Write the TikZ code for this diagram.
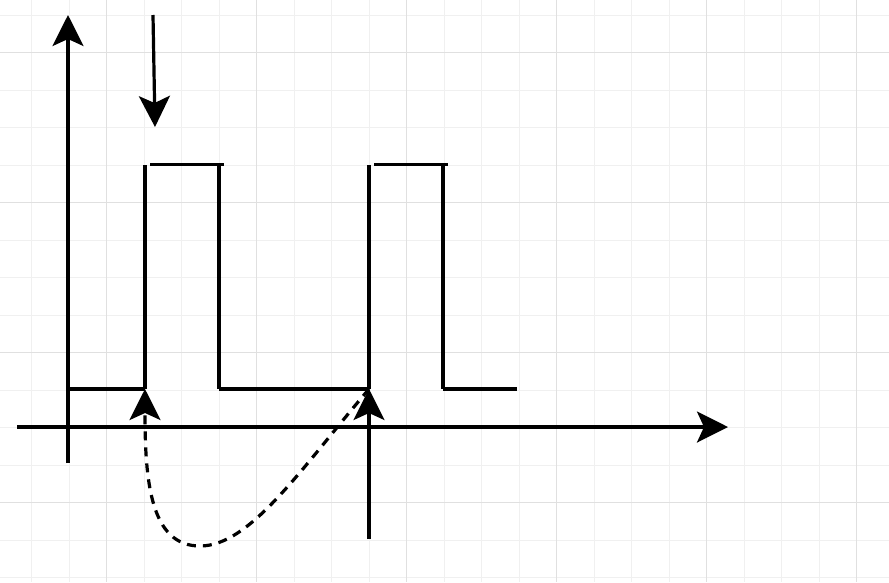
\documentclass[tikz,border=0pt]{standalone}
\usetikzlibrary{arrows.meta}
\begin{document}
\begin{tikzpicture}[x=1pt,y=-1pt,
  minorgrid/.style={draw=black!6,line width=0.8pt},
  majorgrid/.style={draw=black!12,line width=0.8pt},
  wire/.style={draw=black,line width=3.2pt},
  tip/.style={-{Stealth[length=31pt,width=31pt,inset=7pt]}},
  dashedwire/.style={wire,dash pattern=on 9pt off 7pt}]
\useasboundingbox (0,0) rectangle (889,582);
\fill[white] (0,0) rectangle (889,582);
% grid
\foreach \i in {-3,...,21} {
  \draw[minorgrid] ({106.7+37.5*\i},0) -- ({106.7+37.5*\i},582);
}
\foreach \i in {-1,...,15} {
  \draw[minorgrid] (0,{52.7+37.5*\i}) -- (889,{52.7+37.5*\i});
}
\foreach \i in {0,...,5} {
  \draw[majorgrid] ({106.7+150*\i},0) -- ({106.7+150*\i},582);
}
\foreach \i in {0,...,3} {
  \draw[majorgrid] (0,{52.7+150*\i}) -- (889,{52.7+150*\i});
}
% coordinates
\coordinate (yb) at (68,463);
\coordinate (yt) at (68,15);
\coordinate (xl) at (17,427);
\coordinate (xr) at (728,427);
\coordinate (da) at (153,15);
\coordinate (db) at (155,127);
\coordinate (p1a) at (68,389);
\coordinate (p1b) at (145,389);
\coordinate (p1c) at (145,165);
\coordinate (p1d) at (150,164.5);
\coordinate (p1e) at (224,164.5);
\coordinate (p1f) at (219,165);
\coordinate (p1g) at (219,389);
\coordinate (p2b) at (369,389);
\coordinate (p2c) at (369,165);
\coordinate (p2d) at (374,164.5);
\coordinate (p2e) at (448,164.5);
\coordinate (p2f) at (443,165);
\coordinate (p2g) at (443,389);
\coordinate (p2h) at (517,389);
\coordinate (vb) at (369,539);
\coordinate (cb) at (200,546);
% axes
\draw[wire,tip] (yb) -- (yt);
\draw[wire,tip] (xl) -- (xr);
\draw[wire,tip] (da) -- (db);
% pulses
\draw[wire] (p1a) -- (p1b);
\draw[wire] (p1b) -- (p1c);
\draw[wire] (p1d) -- (p1e);
\draw[wire] (p1f) -- (p1g);
\draw[wire] (p1g) -- (p2b);
\draw[wire] (p2b) -- (p2c);
\draw[wire] (p2d) -- (p2e);
\draw[wire] (p2f) -- (p2g);
\draw[wire] (p2g) -- (p2h);
% vertical marker
\draw[wire,tip] (vb) -- (p2b);
% dashed curve
\draw[dashedwire,tip] (p2b) .. controls (300,470) and (250,546) .. (cb)
  .. controls (150,546) and (145,480) .. (p1b);
\end{tikzpicture}
\end{document}
